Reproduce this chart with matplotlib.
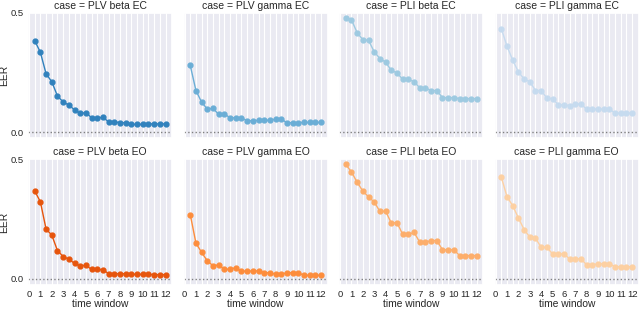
import matplotlib
matplotlib.use("Agg")
import matplotlib.pyplot as plt
import numpy as np
import seaborn as sns

sns.set_theme(style="darkgrid")
plt.rcParams["font.family"] = ["Liberation Sans", "DejaVu Sans"]

time_window = [0.5 * (i + 1) for i in range(24)]

cases = ["PLV beta EC", "PLV gamma EC", "PLI beta EC", "PLI gamma EC",
         "PLV beta EO", "PLV gamma EO", "PLI beta EO", "PLI gamma EO"]

colors = ["#3182bd", "#6baed6", "#9ecae1", "#c6dbef",
          "#e6550d", "#fd8d3c", "#fdae6b", "#fdd0a2"]

plv_beta_ec = [0.384, 0.335, 0.245, 0.212, 0.152, 0.127, 0.114, 0.094, 0.079, 0.082,
               0.061, 0.061, 0.062, 0.044, 0.044, 0.040, 0.040, 0.033, 0.033, 0.033,
               0.035, 0.035, 0.035, 0.035]
plv_gamma_ec = [0.280, 0.175, 0.126, 0.097, 0.100, 0.075, 0.078, 0.060, 0.061, 0.061,
                0.048, 0.048, 0.050, 0.050, 0.050, 0.055, 0.055, 0.040, 0.040, 0.040,
                0.041, 0.041, 0.041, 0.041]
pli_beta_ec = [0.481, 0.471, 0.417, 0.388, 0.385, 0.337, 0.309, 0.294, 0.259, 0.249,
               0.222, 0.222, 0.212, 0.186, 0.186, 0.175, 0.175, 0.145, 0.145, 0.145,
               0.141, 0.141, 0.141, 0.141]
pli_gamma_ec = [0.434, 0.360, 0.302, 0.253, 0.223, 0.212, 0.175, 0.175, 0.143, 0.140,
                0.116, 0.114, 0.112, 0.118, 0.118, 0.097, 0.097, 0.097, 0.097, 0.097,
                0.080, 0.080, 0.080, 0.080]
plv_beta_eo = [0.368, 0.322, 0.208, 0.183, 0.118, 0.093, 0.082, 0.064, 0.054, 0.056,
               0.039, 0.039, 0.0375, 0.021, 0.021, 0.021, 0.021, 0.019, 0.018, 0.018,
               0.018, 0.017, 0.017, 0.017]
plv_gamma_eo = [0.269, 0.149, 0.110, 0.075, 0.054, 0.058, 0.039, 0.040, 0.046, 0.031,
                0.032, 0.032, 0.033, 0.025, 0.025, 0.019, 0.019, 0.025, 0.025, 0.025,
                0.014, 0.014, 0.014, 0.014]
pli_beta_eo = [0.479, 0.447, 0.404, 0.367, 0.343, 0.321, 0.282, 0.283, 0.233, 0.235,
               0.186, 0.186, 0.194, 0.153, 0.153, 0.160, 0.160, 0.121, 0.121, 0.121,
               0.097, 0.097, 0.097, 0.097]
pli_gamma_eo = [0.425, 0.343, 0.306, 0.254, 0.206, 0.174, 0.169, 0.132, 0.131, 0.104,
                0.104, 0.104, 0.083, 0.083, 0.083, 0.058, 0.058, 0.0625, 0.0625, 0.0625,
                0.050, 0.050, 0.050, 0.050]

eer = [plv_beta_ec, plv_gamma_ec, pli_beta_ec, pli_gamma_ec,
       plv_beta_eo, plv_gamma_eo, pli_beta_eo, pli_gamma_eo]

fig, axes = plt.subplots(2, 4, figsize=(6.4, 3.09), dpi=100, sharex=True, sharey=True)
fig.subplots_adjust(left=0.044, right=0.998, top=0.958, bottom=0.078,
                    wspace=0.081, hspace=0.167)

for ax, case, ys, color in zip(axes.flat, cases, eer, colors):
    ax.plot(time_window, ys, marker="o", color=color, markersize=3.5, linewidth=1.0)
    ax.axhline(0, color="gray", linestyle=":", linewidth=1.0)
    ax.set_title(f"case = {case}", fontsize=7.5, pad=3)
    ax.set_ylim(-0.026, 0.5)
    ax.set_xticks(range(13))
    ax.set_xticks(np.arange(0.5, 12.5, 1.0), minor=True)
    ax.set_yticks([0.0, 0.5])
    ax.grid(True, which="both", axis="x", color="white", linewidth=0.8)
    ax.grid(False, axis="y")
    ax.tick_params(which="both", length=0, labelsize=6.8)
    ax.tick_params(axis="x", pad=3.5)
    ax.tick_params(axis="y", pad=3.5)

for ax in axes[1]:
    ax.set_xlabel("time window", fontsize=7.4, labelpad=0)
for ax in axes[:, 0]:
    ax.set_ylabel("EER", fontsize=7.4, labelpad=0.5)

fig.savefig("out.png", dpi=100)
